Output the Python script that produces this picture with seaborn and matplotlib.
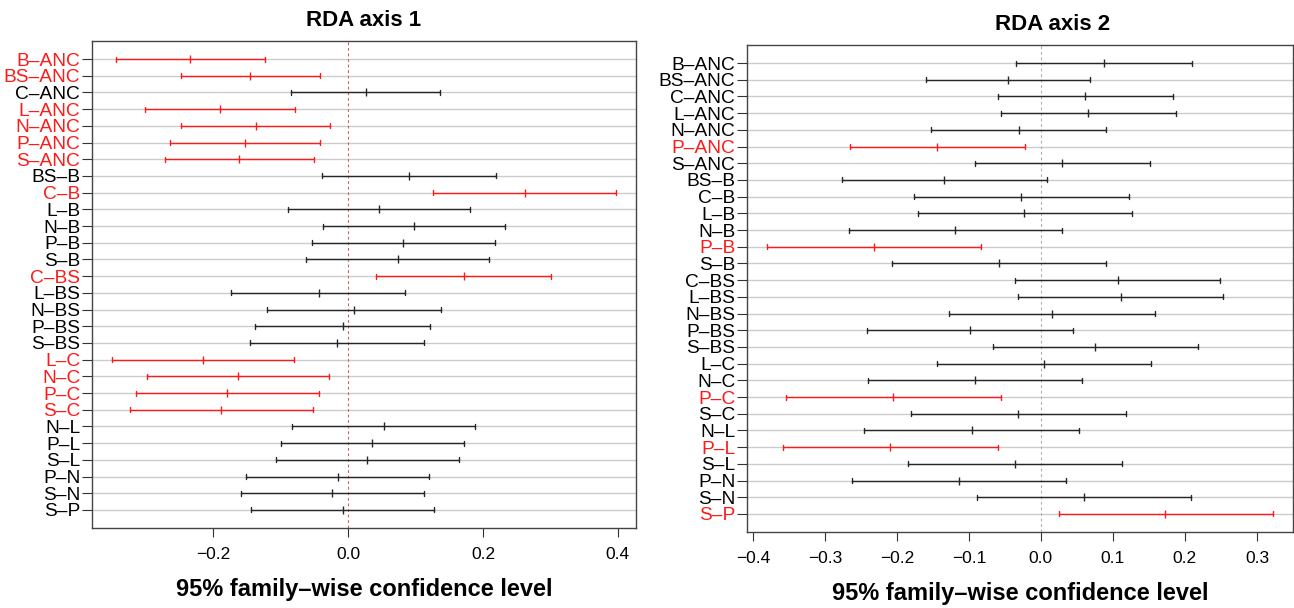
import numpy as np
import pandas as pd
import matplotlib
matplotlib.use("Agg")
import matplotlib.pyplot as plt
import seaborn as sns

# Tukey-style pairwise comparisons (lower, difference, upper)
comparisons = ["B–ANC", "BS–ANC", "C–ANC", "L–ANC", "N–ANC", "P–ANC", "S–ANC",
               "BS–B", "C–B", "L–B", "N–B", "P–B", "S–B",
               "C–BS", "L–BS", "N–BS", "P–BS", "S–BS",
               "L–C", "N–C", "P–C", "S–C",
               "N–L", "P–L", "S–L",
               "P–N", "S–N", "S–P"]

axis1_lwr = [-0.345, -0.248, -0.085, -0.301, -0.248, -0.264, -0.272,
             -0.039, 0.126, -0.089, -0.037, -0.053, -0.062,
             0.041, -0.174, -0.121, -0.138, -0.146,
             -0.351, -0.299, -0.315, -0.324,
             -0.083, -0.099, -0.107,
             -0.151, -0.159, -0.144]
axis1_diff = [-0.235, -0.145, 0.026, -0.190, -0.137, -0.153, -0.162,
              0.090, 0.262, 0.046, 0.098, 0.082, 0.074,
              0.172, -0.044, 0.008, -0.008, -0.016,
              -0.216, -0.163, -0.179, -0.188,
              0.053, 0.036, 0.028,
              -0.015, -0.024, -0.008]
axis1_upr = [-0.124, -0.042, 0.136, -0.079, -0.027, -0.042, -0.051,
             0.220, 0.397, 0.181, 0.233, 0.218, 0.209,
             0.301, 0.085, 0.138, 0.122, 0.113,
             -0.080, -0.028, -0.044, -0.052,
             0.188, 0.172, 0.164,
             0.120, 0.112, 0.127]

axis2_lwr = [-0.034, -0.159, -0.060, -0.056, -0.152, -0.265, -0.092,
             -0.276, -0.176, -0.171, -0.267, -0.380, -0.207,
             -0.036, -0.032, -0.127, -0.241, -0.067,
             -0.144, -0.240, -0.354, -0.180,
             -0.245, -0.358, -0.185,
             -0.262, -0.089, 0.025]
axis2_diff = [0.088, -0.045, 0.061, 0.065, -0.030, -0.144, 0.029,
              -0.134, -0.027, -0.023, -0.119, -0.232, -0.058,
              0.107, 0.111, 0.015, -0.098, 0.075,
              0.005, -0.091, -0.205, -0.032,
              -0.096, -0.209, -0.036,
              -0.113, 0.060, 0.173]
axis2_upr = [0.210, 0.068, 0.183, 0.187, 0.091, -0.022, 0.151,
             0.009, 0.122, 0.126, 0.030, -0.083, 0.090,
             0.249, 0.253, 0.158, 0.045, 0.218,
             0.153, 0.057, -0.056, 0.118,
             0.053, -0.060, 0.113,
             0.035, 0.208, 0.322]

sns.set_style("ticks")
plt.rcParams['font.family'] = ['Liberation Sans', 'DejaVu Sans']
plt.rcParams['text.color'] = 'black'
plt.rcParams['axes.labelcolor'] = 'black'
plt.rcParams['xtick.color'] = 'black'
plt.rcParams['ytick.color'] = 'black'

RED = '#ff1a1a'
DARK = '#262626'


def long_table(lwr, diff, upr):
    rows = []
    for name, lo, mid, hi in zip(comparisons, lwr, diff, upr):
        sig = 'sig' if (lo > 0 or hi < 0) else 'ns'
        for v in (lo, mid, hi):
            rows.append({'comparison': name, 'value': v, 'sig': sig})
    return pd.DataFrame(rows)


def draw_panel(ax, lwr, diff, upr, title, xlim, xticks, zero_color, title_x):
    df = long_table(lwr, diff, upr)
    ax.axvline(0, color=zero_color, linewidth=0.8, linestyle=(0, (2.5, 2.5)), zorder=1)
    sns.pointplot(data=df, x='value', y='comparison', hue='sig', order=comparisons,
                  hue_order=['ns', 'sig'], palette={'ns': DARK, 'sig': RED},
                  estimator='median', errorbar=lambda v: (v.min(), v.max()),
                  dodge=False, markers='|', linestyles='none', capsize=0.3,
                  linewidth=1.0, markersize=6, markeredgewidth=1.0,
                  err_kws={'linewidth': 1.0}, legend=False, orient='h', ax=ax)
    # seaborn switches the grid off on the categorical axis, so turn it back on
    ax.set_axisbelow(True)
    ax.yaxis.grid(True, color='#cccccc', linewidth=1.0)
    n = len(comparisons)
    ax.set_ylim(n - 1 + 1.08, -1.08)
    ax.set_xlim(*xlim)
    ax.set_xticks(xticks)
    ax.set_xticklabels([f"{t:.1f}".replace('-', '−') for t in xticks])
    ax.set_ylabel('')
    ax.set_xlabel('95% family–wise confidence level', fontsize=17, fontweight='bold', labelpad=12)
    ax.set_title(title, fontsize=16, fontweight='bold', pad=11, x=title_x)
    ax.tick_params(axis='y', labelsize=13.8, length=7, pad=1.5, color='#333333')
    ax.tick_params(axis='x', labelsize=12.5, length=6.5, pad=7, color='#333333')
    for lbl, lo, hi in zip(ax.get_yticklabels(), lwr, upr):
        lbl.set_color(RED if (lo > 0 or hi < 0) else 'black')
    for sp in ax.spines.values():
        sp.set_color('#444444')
        sp.set_linewidth(1.0)


fig = plt.figure(figsize=(12.94, 6.08), dpi=100)
ax1 = fig.add_axes([0.0711, 0.1316, 0.4204, 0.8010])
ax2 = fig.add_axes([0.5773, 0.1250, 0.4219, 0.8010])

draw_panel(ax1, axis1_lwr, axis1_diff, axis1_upr, 'RDA axis 1',
           (-0.380, 0.427), [-0.2, 0.0, 0.2, 0.4], '#c86464', 0.5)
draw_panel(ax2, axis2_lwr, axis2_diff, axis2_upr, 'RDA axis 2',
           (-0.408, 0.350), [-0.4, -0.3, -0.2, -0.1, 0.0, 0.1, 0.2, 0.3], '#b0b0b0', 0.56)

fig.savefig('out.png', dpi=100)
